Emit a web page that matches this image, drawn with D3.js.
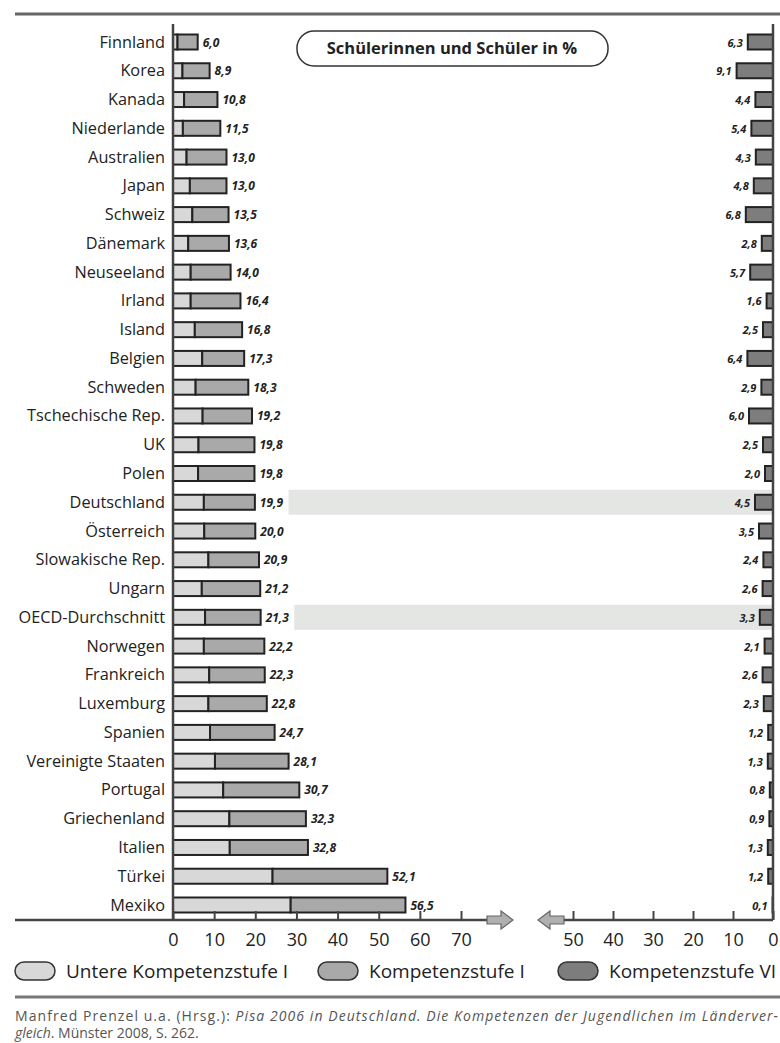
<!DOCTYPE html>
<html>
<head>
<meta charset="utf-8">
<script src="https://cdn.jsdelivr.net/npm/d3@7"></script>
<style>
  body { margin: 0; background: #fff; }
  svg { display: block; font-family: "Open Sans", "Noto Sans", sans-serif; }
  .axis .domain { display: none; }
  .axis line { stroke: #444; stroke-width: 2; }
  .axis text { font-size: 18px; fill: #222; font-family: "Open Sans", sans-serif; }
</style>
</head>
<body>
<svg id="chart" width="780" height="1043"></svg>
<script>
// PISA 2006 Mathematik, Anteile in %
const countries = ['Finnland', 'Korea', 'Kanada', 'Niederlande', 'Australien', 'Japan', 'Schweiz',
  'Dänemark', 'Neuseeland', 'Irland', 'Island', 'Belgien', 'Schweden', 'Tschechische Rep.', 'UK',
  'Polen', 'Deutschland', 'Österreich', 'Slowakische Rep.', 'Ungarn', 'OECD-Durchschnitt',
  'Norwegen', 'Frankreich', 'Luxemburg', 'Spanien', 'Vereinigte Staaten', 'Portugal',
  'Griechenland', 'Italien', 'Türkei', 'Mexiko'];

// Untere Kompetenzstufe I (unter Stufe I)
const belowLevel1 = [1.1, 2.3, 2.7, 2.4, 3.3, 4.1, 4.7, 3.7, 4.3, 4.3, 5.3, 7.1, 5.5, 7.2, 6.2,
  6.1, 7.5, 7.6, 8.6, 7.0, 7.8, 7.5, 8.8, 8.6, 9.0, 10.2, 12.2, 13.7, 13.8, 24.2, 28.6];

// Untere Kompetenzstufe I + Kompetenzstufe I (Summe, beschriftet)
const atLevel1OrBelow = [6.0, 8.9, 10.8, 11.5, 13.0, 13.0, 13.5, 13.6, 14.0, 16.4, 16.8, 17.3, 18.3,
  19.2, 19.8, 19.8, 19.9, 20.0, 20.9, 21.2, 21.3, 22.2, 22.3, 22.8, 24.7, 28.1, 30.7, 32.3, 32.8,
  52.1, 56.5];

// Kompetenzstufe VI
const level6 = [6.3, 9.1, 4.4, 5.4, 4.3, 4.8, 6.8, 2.8, 5.7, 1.6, 2.5, 6.4, 2.9, 6.0, 2.5, 2.0,
  4.5, 3.5, 2.4, 2.6, 3.3, 2.1, 2.6, 2.3, 1.2, 1.3, 0.8, 0.9, 1.3, 1.2, 0.1];

const highlighted = ['Deutschland', 'OECD-Durchschnitt'];
const leftTicks = [0, 10, 20, 30, 40, 50, 60, 70];
const rightTicks = [0, 10, 20, 30, 40, 50];
const legendLabels = ['Untere Kompetenzstufe I', 'Kompetenzstufe I', 'Kompetenzstufe VI'];
const fills = ['#d8d8d8', '#a9a9a9', '#7d7d7d'];

const svg = d3.select('#chart');
const fmt = v => d3.format('.1f')(v).replace('.', ',');

const axisY = 920;
const xL = d3.scaleLinear().domain([0, 70]).range([173, 461]);
const xR = d3.scaleLinear().domain([0, 50]).range([773, 573]);
const y = d3.scalePoint().domain(countries).range([42, 905]);
const barH = 15;

const rows = countries.map((c, i) => ({
  name: c, below: belowLevel1[i], total: atLevel1OrBelow[i], top: level6[i]
}));

// top rule
svg.append('line').attr('x1', 15).attr('x2', 780).attr('y1', 14).attr('y2', 14)
  .attr('stroke', '#666').attr('stroke-width', 3);

// highlight bands (filled in once the value labels exist)
const bandLayer = svg.append('g');

// title pill
const title = svg.append('g');
title.append('rect').attr('x', 297).attr('y', 31).attr('width', 311).attr('height', 35)
  .attr('rx', 17).attr('fill', '#fff').attr('stroke', '#333').attr('stroke-width', 1.5);
title.append('text').attr('x', 452).attr('y', 54).attr('text-anchor', 'middle')
  .attr('font-size', 16.5).attr('font-weight', 700).attr('fill', '#222')
  .text('Schülerinnen und Schüler in %');

// country labels
svg.append('g').selectAll('text').data(rows).join('text')
  .attr('x', 165).attr('y', d => y(d.name) + 5.5)
  .attr('text-anchor', 'end').attr('font-size', 16.3).attr('fill', '#222')
  .text(d => d.name);

// left bars
const bars = svg.append('g').selectAll('g').data(rows).join('g');
bars.append('rect')
  .attr('x', xL(0)).attr('y', d => y(d.name) - barH / 2)
  .attr('width', d => xL(d.below) - xL(0)).attr('height', barH)
  .attr('fill', fills[0]).attr('stroke', '#222').attr('stroke-width', 2);
bars.append('rect')
  .attr('x', d => xL(d.below)).attr('y', d => y(d.name) - barH / 2)
  .attr('width', d => xL(d.total) - xL(d.below)).attr('height', barH)
  .attr('fill', fills[1]).attr('stroke', '#222').attr('stroke-width', 2);

const leftVals = svg.append('g').selectAll('text').data(rows).join('text')
  .attr('x', d => xL(d.total) + 5).attr('y', d => y(d.name) + 4.5)
  .attr('font-size', 12).attr('font-weight', 700).attr('font-style', 'italic').attr('fill', '#222')
  .text(d => fmt(d.total));

// bands start after the label end
leftVals.each(function(d) {
  if (!highlighted.includes(d.name)) return;
  const bb = this.getBBox();
  bandLayer.append('rect')
    .attr('x', bb.x + bb.width + 5).attr('y', y(d.name) - 12.5)
    .attr('width', xR(0) - (bb.x + bb.width + 5)).attr('height', 25)
    .attr('fill', '#e4e6e4');
});

// right bars
svg.append('g').selectAll('rect').data(rows).join('rect')
  .attr('x', d => xR(d.top)).attr('y', d => y(d.name) - barH / 2)
  .attr('width', d => xR(0) - xR(d.top)).attr('height', barH)
  .attr('fill', fills[2]).attr('stroke', '#222').attr('stroke-width', 2);

svg.append('g').selectAll('text').data(rows).join('text')
  .attr('x', d => xR(d.top) - 5).attr('y', d => y(d.name) + 4.5)
  .attr('text-anchor', 'end')
  .attr('font-size', 11).attr('font-weight', 700).attr('font-style', 'italic').attr('fill', '#222')
  .text(d => fmt(d.top));

// axes
svg.append('g').attr('class', 'axis').attr('transform', `translate(0,${axisY})`)
  .call(d3.axisBottom(xL).tickValues(leftTicks).tickSize(-9).tickPadding(13));
svg.append('g').attr('class', 'axis').attr('transform', `translate(0,${axisY})`)
  .call(d3.axisBottom(xR).tickValues(rightTicks).tickSize(-9).tickPadding(13));

// axis lines
function line(x1, y1, x2, y2) {
  svg.append('line').attr('x1', x1).attr('y1', y1).attr('x2', x2).attr('y2', y2)
    .attr('stroke', '#444').attr('stroke-width', 2.5);
}
line(xL(0), 24, xL(0), axisY);
line(xR(0), 24, xR(0), axisY);
line(15, axisY, 488, axisY);
line(562, axisY, xR(0), axisY);

// direction arrows
function arrow(x0, dir) {
  const p = d3.path();
  const L = 26, s = 14;
  p.moveTo(x0, axisY - 4);
  p.lineTo(x0 + dir * s, axisY - 4);
  p.lineTo(x0 + dir * s, axisY - 9);
  p.lineTo(x0 + dir * L, axisY);
  p.lineTo(x0 + dir * s, axisY + 9);
  p.lineTo(x0 + dir * s, axisY + 4);
  p.lineTo(x0, axisY + 4);
  p.closePath();
  svg.append('path').attr('d', p.toString())
    .attr('fill', '#b0b0b0').attr('stroke', '#666').attr('stroke-width', 1.2);
}
arrow(487, 1);
arrow(564, -1);

// legend
const legendX = [15, 318, 558];
const legend = svg.append('g').selectAll('g').data(legendLabels).join('g')
  .attr('transform', (d, i) => `translate(${legendX[i]},962)`);
legend.append('rect').attr('width', 40).attr('height', 18).attr('rx', 9)
  .attr('fill', (d, i) => fills[i]).attr('stroke', '#333').attr('stroke-width', 1.5);
legend.append('text').attr('x', 51).attr('y', 16).attr('font-size', 19).attr('fill', '#222')
  .text(d => d);

// bottom rule and source
svg.append('line').attr('x1', 15).attr('x2', 780).attr('y1', 997).attr('y2', 997)
  .attr('stroke', '#777').attr('stroke-width', 3);

const src1 = svg.append('text').attr('x', 15).attr('y', 1021).attr('font-size', 14).attr('fill', '#555')
  .attr('textLength', 763).attr('lengthAdjust', 'spacing');
src1.append('tspan').text('Manfred Prenzel u.a. (Hrsg.): ');
src1.append('tspan').attr('font-style', 'italic')
  .text('Pisa 2006 in Deutschland. Die Kompetenzen der Jugendlichen im Länderver-');
const src2 = svg.append('text').attr('x', 15).attr('y', 1038).attr('font-size', 14).attr('fill', '#555');
src2.append('tspan').attr('font-style', 'italic').text('gleich');
src2.append('tspan').text('. Münster 2008, S. 262.');
</script>
</body>
</html>
